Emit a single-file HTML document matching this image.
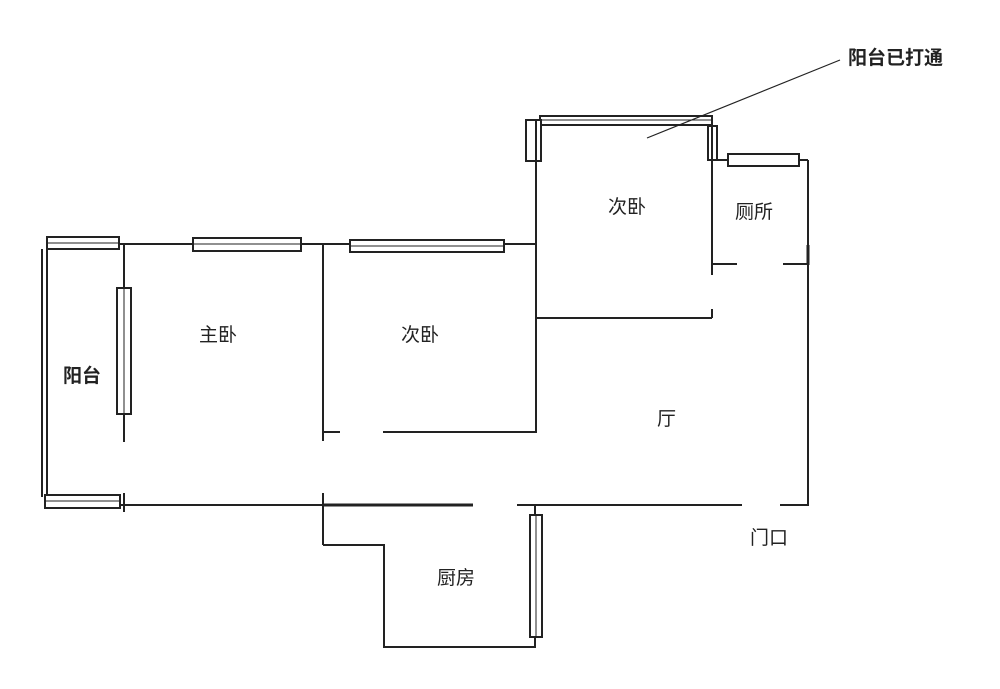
<!DOCTYPE html>
<html><head><meta charset="utf-8"><style>
html,body{margin:0;padding:0;background:#fff;}
svg{display:block;}
text{font-family:"Liberation Sans","Noto Sans CJK SC",sans-serif;fill:#222;}
</style></head><body>
<svg width="1000" height="689" viewBox="0 0 1000 689" xmlns="http://www.w3.org/2000/svg">
<g stroke="#222" stroke-width="2" fill="none">
<!-- top wall -->
<line x1="120" y1="244" x2="537" y2="244"/>
<!-- left balcony -->
<line x1="42" y1="249" x2="42" y2="497"/>
<line x1="47" y1="249" x2="47" y2="497"/>
<rect x="47" y="237" width="72" height="12" fill="#fff"/>
<line x1="47" y1="243" x2="119" y2="243" stroke-width="1"/>
<rect x="45" y="495" width="75" height="13" fill="#fff"/>
<line x1="45" y1="501" x2="120" y2="501" stroke-width="1"/>
<line x1="124" y1="245" x2="124" y2="442"/>
<rect x="117" y="288" width="14" height="126" fill="#fff"/>
<line x1="124" y1="288" x2="124" y2="414" stroke-width="1"/>
<line x1="124" y1="493" x2="124" y2="512"/>
<!-- top windows -->
<rect x="193" y="238" width="108" height="13" fill="#fff"/>
<line x1="193" y1="244" x2="301" y2="244" stroke-width="1"/>
<rect x="350" y="240" width="154" height="12" fill="#fff"/>
<line x1="350" y1="246" x2="504" y2="246" stroke-width="1"/>
<!-- bedroom 2 -->
<line x1="323" y1="245" x2="323" y2="441"/>
<line x1="323" y1="432" x2="340" y2="432"/>
<line x1="383" y1="432" x2="537" y2="432"/>
<line x1="536" y1="120" x2="536" y2="432"/>
<!-- bottom wall -->
<line x1="120" y1="505" x2="323" y2="505"/>
<line x1="323" y1="505" x2="473" y2="505" stroke-width="3"/>
<line x1="517" y1="505" x2="742" y2="505"/>
<line x1="780" y1="505" x2="809" y2="505"/>
<line x1="323" y1="493" x2="323" y2="545"/>
<!-- kitchen -->
<polyline points="323,545 384,545 384,647 535,647 535,505"/>
<rect x="530" y="515" width="12" height="122" fill="#fff"/>
<line x1="536" y1="515" x2="536" y2="637" stroke-width="1"/>
<!-- upper bedroom -->
<rect x="540" y="116" width="172" height="9" fill="#fff"/>
<line x1="540" y1="120" x2="712" y2="120" stroke-width="1"/>
<rect x="526" y="120" width="15" height="41" fill="#fff"/>
<line x1="536" y1="120" x2="536" y2="161"/>
<rect x="708" y="126" width="9" height="34" fill="#fff"/>
<line x1="712" y1="120" x2="712" y2="275"/>
<line x1="537" y1="318" x2="712" y2="318"/>
<line x1="712" y1="309" x2="712" y2="318"/>
<!-- toilet -->
<line x1="717" y1="160" x2="728" y2="160"/>
<rect x="728" y="154" width="71" height="12" fill="#fff"/>
<line x1="799" y1="160" x2="808" y2="160"/>
<line x1="808" y1="160" x2="808" y2="505"/>
<line x1="808" y1="245" x2="808" y2="265" stroke-width="3"/>
<line x1="712" y1="264" x2="737" y2="264"/>
<line x1="783" y1="264" x2="808" y2="264"/>
<!-- leader -->
<line x1="840" y1="60" x2="647" y2="138" stroke-width="1.2"/>
</g>
<g font-size="19">
<text x="848" y="64" font-weight="bold" font-size="19">阳台已打通</text>
<text x="608" y="213">次卧</text>
<text x="735" y="218">厕所</text>
<text x="199" y="341">主卧</text>
<text x="401" y="341">次卧</text>
<text x="63" y="382" font-weight="bold">阳台</text>
<text x="657" y="425">厅</text>
<text x="750" y="544">门口</text>
<text x="437" y="584">厨房</text>
</g>
</svg>
</body></html>
